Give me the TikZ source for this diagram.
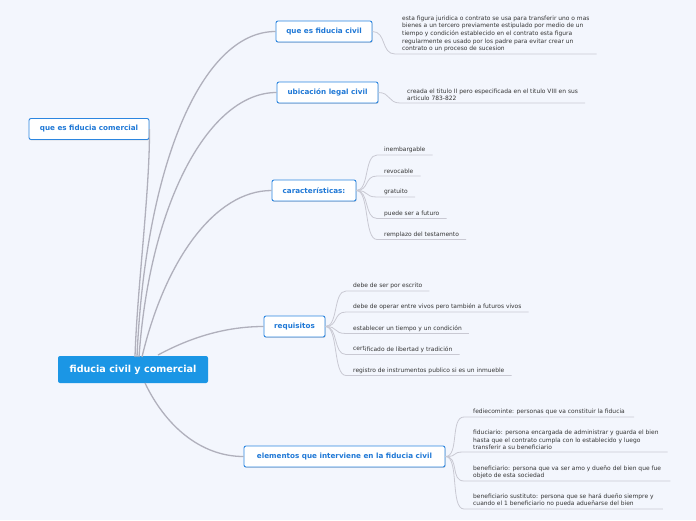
\documentclass[tikz,border=0pt]{standalone}
\usepackage{fontspec}
\setmainfont{DejaVu Sans}
\usetikzlibrary{shadows}
\definecolor{bg}{HTML}{F3F6FD}
\definecolor{nodeblue}{HTML}{2C86E0}
\definecolor{txtblue}{HTML}{1F78D6}
\definecolor{hubblue}{HTML}{1B96E5}
\definecolor{mainline}{HTML}{B0B0BC}
\definecolor{leafline}{HTML}{C9C9D3}
\definecolor{leaftxt}{HTML}{333333}
\tikzset{
  hubnode/.style={fill=hubblue, text=white, rounded corners=2pt, minimum width=150pt, minimum height=27pt, inner sep=0pt, font=\fontsize{9.6}{11}\selectfont\bfseries},
  topic/.style={draw=nodeblue, line width=0.9pt, fill=white, text=txtblue, rounded corners=2pt, minimum height=21pt, inner sep=0pt, font=\fontsize{7.2}{8.5}\selectfont\bfseries, drop shadow={shadow xshift=0.6pt, shadow yshift=-0.9pt, opacity=0.25, fill=black!60}},
  leaf/.style={anchor=south west, align=left, inner xsep=7pt, inner ysep=1.8pt, text=leaftxt, font=\fontsize{5.95}{7.6}\selectfont},
  branch/.style={draw=mainline, line width=1.3pt},
  twig/.style={draw=leafline, line width=0.8pt},
}
\begin{document}
\begin{tikzpicture}[x=1pt,y=-1pt]
\fill[bg] (0,0) rectangle (696,520);
\useasboundingbox (0,0) rectangle (696,520);

% hub start points
\coordinate (h1) at (135,357);
\coordinate (h2) at (137,357);
\coordinate (h3) at (139,357);
\coordinate (h4) at (142,357);
\coordinate (h5) at (158,355);
\coordinate (h6) at (145,383);

% nodes
\node[hubnode] (hub) at (133,369.5) {fiducia civil y comercial};
\node[topic, minimum width=120pt] (com) at (89,129) {que es fiducia comercial};
\node[topic, minimum width=96pt] (civ) at (324,31.5) {que es fiducia civil};
\node[topic, minimum width=101pt] (ubi) at (327.5,92.5) {ubicación legal civil};
\node[topic, minimum width=84pt] (car) at (314,190.5) {características:};
\node[topic, minimum width=61pt] (req) at (294.5,326.5) {requisitos};
\node[topic, minimum width=201pt] (ele) at (344.5,456.5) {elementos que interviene en la fiducia civil};

% main branches
\begin{scope}[on background layer/.try]
\end{scope}
\draw[branch] (h1) .. controls (137,290) and (150,190) .. (com.east);
\draw[branch] (h2) .. controls (145,170) and (200,31.5) .. (civ.west);
\draw[branch] (h3) .. controls (150,200) and (210,92.5) .. (ubi.west);
\draw[branch] (h4) .. controls (165,260) and (215,190.5) .. (car.west);
\draw[branch] (h5) .. controls (195,335) and (230,326.5) .. (req.west);
\draw[branch] (h6) .. controls (165,425) and (200,456.5) .. (ele.west);

% leaves: que es fiducia civil
\node[leaf] (c1) at (395,54) {esta figura juridica o contrato se usa para transferir uno o mas\\bienes a un tercero previamente estipulado por medio de un\\tiempo y condición establecido en el contrato esta figura\\regularmente es usado por los padre para evitar crear un\\contrato o un proceso de sucesion};
\draw[twig] (civ.east) .. controls +(14,0) and +(-14,0) .. (c1.south west) -- (c1.south east);

% ubicacion
\node[leaf] (u1) at (400,103) {creada el titulo II pero especificada en el titulo VIII en sus\\articulo 783-822};
\draw[twig] (ubi.east) .. controls +(12,0) and +(-12,0) .. (u1.south west) -- (u1.south east);

% caracteristicas
\node[leaf] (k1) at (377,155) {inembargable};
\node[leaf] (k2) at (377,176) {revocable};
\node[leaf] (k3) at (377,197) {gratuito};
\node[leaf] (k4) at (377,218.5) {puede ser a futuro};
\node[leaf] (k5) at (377,239.5) {remplazo del testamento};
\foreach \k in {k1,k2,k3,k4,k5}{
  \draw[twig] (car.east) .. controls +(13,0) and +(-13,0) .. (\k.south west) -- (\k.south east);
}

% requisitos
\node[leaf] (r1) at (346,291) {debe de ser por escrito};
\node[leaf] (r2) at (346,312) {debe de operar entre vivos pero también a futuros vivos};
\node[leaf] (r3) at (346,333.5) {establecer un tiempo y un condición};
\node[leaf] (r4) at (346,354.5) {\raisebox{1pt}{cert}ificado de libertad y tradición};
\node[leaf] (r5) at (346,375.5) {registro de instrumentos publico si es un inmueble};
\foreach \k in {r1,r2,r3,r4,r5}{
  \draw[twig] (req.east) .. controls +(13,0) and +(-13,0) .. (\k.south west) -- (\k.south east);
}

% elementos
\node[leaf, inner xsep=9pt] (e1) at (464,417) {fediecominte: personas que va constituir la fiducia};
\node[leaf, inner xsep=9pt] (e2) at (464,452) {fiduciario: persona encargada de administrar y guarda el bien\\hasta que el contrato cumpla con lo establecido y luego\\transferir a su beneficiario};
\node[leaf, inner xsep=9pt] (e3) at (464,481) {beneficiario: persona que va ser amo y dueño del bien que fue\\objeto de esta sociedad};
\node[leaf, inner xsep=9pt] (e4) at (464,509) {beneficiario sustituto: persona que se hará dueño siempre y\\cuando el 1 beneficiario no pueda adueñarse del bien};
\foreach \k in {e1,e2,e3,e4}{
  \draw[twig] (ele.east) .. controls +(14,0) and +(-14,0) .. (\k.south west) -- (\k.south east);
}
\end{tikzpicture}
\end{document}
